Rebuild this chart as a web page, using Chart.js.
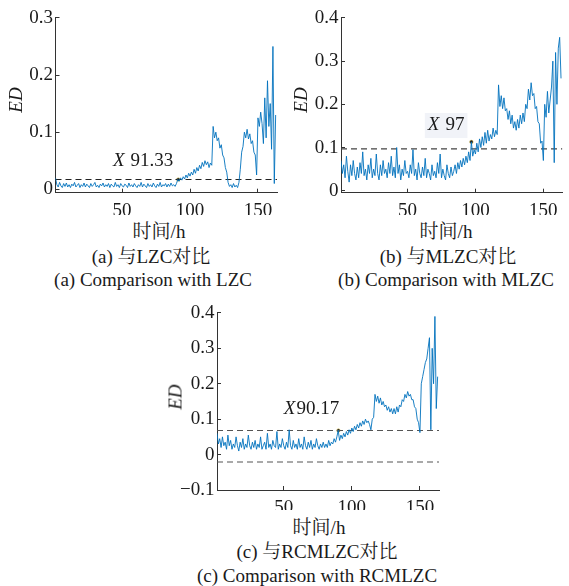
<!DOCTYPE html>
<html>
<head>
<meta charset="utf-8">
<script src="https://cdn.jsdelivr.net/npm/chart.js@4.4.0/dist/chart.umd.min.js"></script>
<style>
  body { margin: 0; width: 569px; height: 586px; background: #fff; position: relative; overflow: hidden;
         font-family: "Liberation Serif", "Noto Serif CJK SC", "Noto Sans CJK SC", serif; color: #1a1a1a; }
  canvas { position: absolute; }
  .t { position: absolute; white-space: nowrap; font-size: 19px; line-height: 1; transform: translate(-50%, -50%); }
  .ed { font-style: italic; transform: translate(-50%, -50%) rotate(-90deg); }
</style>
</head>
<body>
<canvas id="chartA" width="285" height="215" style="left:0;top:0"></canvas>
<canvas id="chartB" width="284" height="215" style="left:285px;top:0"></canvas>
<canvas id="chartC" width="290" height="215" style="left:160px;top:295px"></canvas>

<div class="t ed" style="left:15px;top:100px">ED</div>
<div class="t" style="left:159px;top:231px">时间/h</div>
<div class="t" style="left:151px;top:256px">(a) 与LZC对比</div>
<div class="t" style="left:153px;top:279px">(a) Comparison with LZC</div>

<div class="t ed" style="left:300px;top:100px">ED</div>
<div class="t" style="left:446px;top:231px">时间/h</div>
<div class="t" style="left:448px;top:256px">(b) 与MLZC对比</div>
<div class="t" style="left:446px;top:279px">(b) Comparison with MLZC</div>

<div class="t ed" style="left:175px;top:397px">ED</div>
<div class="t" style="left:319px;top:527px">时间/h</div>
<div class="t" style="left:317px;top:551px">(c) 与RCMLZC对比</div>
<div class="t" style="left:317px;top:575px">(c) Comparison with RCMLZC</div>

<script>
// hours 1..163 on the x axis
const hours = Array.from({ length: 163 }, (_, i) => i + 1);
const xTicks = [50, 100, 150];

// (a) ED compared with LZC
const edLZC = [
  0.02, 0.008, 0.004, 0.012, 0.006, 0.003, 0.01, 0.005, 0.011, 0.004,
  0.008, 0.003, 0.009, 0.006, 0.012, 0.004, 0.007, 0.01, 0.003, 0.008,
  0.005, 0.011, 0.004, 0.009, 0.006, 0.003, 0.01, 0.005, 0.008, 0.012,
  0.004, 0.007, 0.003, 0.009, 0.006, 0.011, 0.004, 0.008, 0.005, 0.01,
  0.003, 0.009, 0.006, 0.004, 0.012, 0.005, 0.008, 0.003, 0.01, 0.006,
  0.004, 0.009, 0.007, 0.003, 0.011, 0.005, 0.008, 0.004, 0.01, 0.006,
  0.003, 0.008, 0.005, 0.012, 0.004, 0.009, 0.006, 0.003, 0.01, 0.005,
  0.008, 0.004, 0.011, 0.006, 0.003, 0.009, 0.005, 0.012, 0.004, 0.008,
  0.006, 0.01, 0.004, 0.009, 0.005, 0.011, 0.006, 0.008, 0.005, 0.01,
  0.017, 0.014, 0.02, 0.016, 0.022, 0.018, 0.025, 0.02, 0.028, 0.023,
  0.03, 0.025, 0.035, 0.028, 0.038, 0.032, 0.042, 0.036, 0.047, 0.04,
  0.05, 0.043, 0.048, 0.038, 0.046, 0.042,
  0.11, 0.09, 0.1, 0.085, 0.09, 0.072, 0.078, 0.06, 0.055, 0.038, 0.03, 0.012,
  0.005, 0.008, 0.003, 0.01, 0.004, 0.007, 0.003, 0.012,
  0.035, 0.065, 0.075, 0.1, 0.09, 0.105, 0.088, 0.097, 0.08, 0.085, 0.065, 0.06, 0.025,
  0.125, 0.11, 0.135, 0.115,
  0.08, 0.16, 0.09, 0.19, 0.11, 0.15, 0.07, 0.25, 0.01, 0.13
];

// (b) ED compared with MLZC
const edMLZC = [
  0.07, 0.04, 0.06, 0.03, 0.08, 0.045, 0.02, 0.06, 0.035, 0.07,
  0.04, 0.025, 0.055, 0.03, 0.065, 0.04, 0.09, 0.035, 0.05, 0.025,
  0.06, 0.04, 0.075, 0.03, 0.05, 0.035, 0.085, 0.04, 0.025, 0.06,
  0.035, 0.07, 0.04, 0.05, 0.03, 0.065, 0.04, 0.08, 0.035, 0.055,
  0.03, 0.1, 0.04, 0.06, 0.025, 0.05, 0.035, 0.07, 0.04, 0.045,
  0.03, 0.06, 0.04, 0.095, 0.035, 0.05, 0.025, 0.065, 0.04, 0.03,
  0.055, 0.035, 0.075, 0.03, 0.05, 0.04, 0.025, 0.06, 0.035, 0.045,
  0.03, 0.065, 0.04, 0.085, 0.03, 0.05, 0.035, 0.025, 0.06, 0.04,
  0.03, 0.055, 0.035, 0.045, 0.06, 0.04, 0.065, 0.05, 0.07, 0.055,
  0.075, 0.06, 0.08, 0.065, 0.09, 0.07, 0.113, 0.08, 0.095, 0.085,
  0.11, 0.09, 0.12, 0.1, 0.125, 0.105, 0.135, 0.11, 0.14, 0.115,
  0.13, 0.12, 0.145, 0.125, 0.14, 0.13,
  0.245, 0.195, 0.22, 0.19, 0.215, 0.185,
  0.19, 0.165, 0.185, 0.155, 0.175, 0.145, 0.16, 0.14,
  0.165, 0.145, 0.175, 0.155, 0.18, 0.16,
  0.2, 0.19, 0.235, 0.21, 0.25, 0.22,
  0.225, 0.19, 0.195, 0.16, 0.155, 0.11, 0.115, 0.07,
  0.2, 0.17, 0.23, 0.18, 0.21,
  0.24, 0.3, 0.065, 0.32, 0.2, 0.33, 0.355, 0.26
];

// (c) ED compared with RCMLZC
const edRCMLZC = [
  0.06, 0.03, 0.045, 0.02, 0.05, 0.025, 0.035, 0.015, 0.055, 0.025,
  0.04, 0.015, 0.03, 0.02, 0.05, 0.025, 0.01, 0.035, 0.02, 0.045,
  0.015, 0.03, 0.02, 0.055, 0.025, 0.015, 0.035, 0.02, 0.04, 0.015,
  0.03, 0.02, 0.05, 0.015, 0.025, 0.035, 0.015, 0.06, 0.02, 0.03,
  0.015, 0.04, 0.025, 0.02, 0.065, 0.015, 0.03, 0.02, 0.045, 0.025,
  0.015, 0.035, 0.02, 0.07, 0.025, 0.015, 0.04, 0.02, 0.03, 0.015,
  0.045, 0.02, 0.03, 0.015, 0.05, 0.025, 0.015, 0.035, 0.02, 0.04,
  0.015, 0.03, 0.02, 0.045, 0.025, 0.015, 0.03, 0.02, 0.035, 0.02,
  0.03, 0.02, 0.04, 0.025, 0.035, 0.03, 0.045, 0.035, 0.05, 0.068,
  0.04, 0.055, 0.045, 0.06, 0.05, 0.065, 0.055, 0.07, 0.06, 0.075,
  0.065, 0.08, 0.07, 0.085, 0.075, 0.09, 0.08, 0.095, 0.085, 0.1,
  0.09, 0.095, 0.085, 0.07, 0.1, 0.105,
  0.17, 0.15, 0.165, 0.145, 0.16, 0.14,
  0.15, 0.135, 0.14, 0.125, 0.135, 0.12, 0.13, 0.115,
  0.13, 0.115, 0.135, 0.12, 0.14, 0.135,
  0.155, 0.15, 0.17, 0.16, 0.178, 0.165, 0.17,
  0.155, 0.155, 0.135, 0.13, 0.1, 0.09, 0.062,
  0.2, 0.22, 0.24, 0.26, 0.27,
  0.3, 0.33, 0.07, 0.3, 0.2, 0.39, 0.13, 0.22
];

// thresholds and crossing points
const thrA = [0.017];
const thrB = [0.097];
const thrC = [0.068, -0.021];
const crossA = [91.33, 0.017];
const crossB = [97, 0.113];
const crossC = [90.17, 0.068];

const yTicksA = [0, 0.1, 0.2, 0.3];
const yTicksB = [0, 0.1, 0.2, 0.3, 0.4];
const yTicksC = [-0.1, 0, 0.1, 0.2, 0.3, 0.4];

const serif = '"Liberation Serif", serif';
const tickFont = { family: serif, size: 19 };
const axisColor = '#333';

// text next to the crossing point: italic X + value
const annotPlugin = {
  id: 'annot',
  afterDatasetsDraw(chart, args, opts) {
    if (!opts || !opts.text) return;
    const { ctx, scales } = chart;
    const px = scales.x.getPixelForValue(opts.x);
    const py = scales.y.getPixelForValue(opts.y);
    ctx.save();
    ctx.font = 'italic 19px ' + serif;
    const wX = ctx.measureText('X').width;
    ctx.font = '19px ' + serif;
    const wV = ctx.measureText(opts.text).width;
    const w = wX + opts.gap + wV;
    let left = px - w / 2;
    if (opts.box) {
      ctx.fillStyle = '#f1f3f8';
      ctx.fillRect(left - 3, py - 12, w + 6, 25);
    }
    ctx.fillStyle = '#1a1a1a';
    ctx.textBaseline = 'middle';
    ctx.font = 'italic 19px ' + serif;
    ctx.fillText('X', left, py);
    ctx.font = '19px ' + serif;
    ctx.fillText(opts.text, left + wX + opts.gap, py);
    ctx.restore();
  }
};

const buildChart = (id, cfg) => {
  const datasets = [{
    data: hours.map((h, i) => ({ x: h, y: cfg.values[i] })),
    borderColor: 'rgb(0,114,189)',
    borderWidth: 0.9,
    pointRadius: 0,
    tension: 0
  }];
  cfg.thr.forEach(t => {
    datasets.push({
      data: [{ x: 1, y: t }, { x: 164, y: t }],
      borderColor: cfg.dashColor,
      borderWidth: 1.1,
      borderDash: [6, 4],
      pointRadius: 0
    });
  });
  datasets.push({
    data: [{ x: cfg.cross[0], y: cfg.cross[1] }],
    showLine: false,
    pointRadius: 1.8,
    pointBackgroundColor: '#222',
    pointBorderColor: '#e8d060',
    pointBorderWidth: 0.5
  });

  return new Chart(document.getElementById(id), {
    type: 'line',
    data: { datasets: datasets },
    plugins: [annotPlugin],
    options: {
      responsive: false,
      animation: false,
      layout: { padding: { left: 0, right: cfg.padR, top: cfg.padT, bottom: 0 } },
      plugins: {
        legend: { display: false },
        tooltip: { enabled: false },
        annot: cfg.annot
      },
      scales: {
        x: {
          type: 'linear',
          min: 1,
          max: 164,
          afterBuildTicks: s => { s.ticks = xTicks.map(v => ({ value: v })); },
          afterFit: s => { s.height = cfg.xH; },
          grid: { drawOnChartArea: false, tickLength: -4, color: axisColor },
          border: { color: axisColor, width: 1 },
          ticks: { padding: 11, font: tickFont, color: '#1a1a1a', maxRotation: 0 }
        },
        y: {
          type: 'linear',
          min: cfg.yMin,
          max: cfg.yMax,
          afterBuildTicks: s => { s.ticks = cfg.yTicks.map(v => ({ value: v })); },
          afterFit: s => { s.width = cfg.yW; },
          grid: { drawOnChartArea: false, tickLength: -4, color: axisColor },
          border: { color: axisColor, width: 1 },
          ticks: {
            padding: 6.5, font: tickFont, color: '#1a1a1a',
            callback: v => (v < 0 ? '\u2212' + Math.abs(v) : String(v))
          }
        }
      }
    }
  });
};

buildChart('chartA', {
  values: edLZC, thr: thrA, cross: crossA, dashColor: '#222',
  yMin: -0.006, yMax: 0.3, yTicks: yTicksA,
  yW: 55.5, padR: 8, padT: 14.5, xH: 22.3,
  annot: { text: '91.33', x: 65.5, y: 0.05, gap: 6, box: false }
});
buildChart('chartB', {
  values: edMLZC, thr: thrB, cross: crossB, dashColor: '#444',
  yMin: -0.0045, yMax: 0.4, yTicks: yTicksB,
  yW: 56, padR: 1, padT: 14, xH: 22.3,
  annot: { text: '97', x: 78.4, y: 0.152, gap: 6, box: true }
});
buildChart('chartC', {
  values: edRCMLZC, thr: thrC, cross: crossC, dashColor: '#555',
  yMin: -0.1, yMax: 0.4, yTicks: yTicksC,
  yW: 57, padR: 11, padT: 16, xH: 20,
  annot: { text: '90.17', x: 70.4, y: 0.13, gap: 1, box: false }
});
</script>
</body>
</html>
